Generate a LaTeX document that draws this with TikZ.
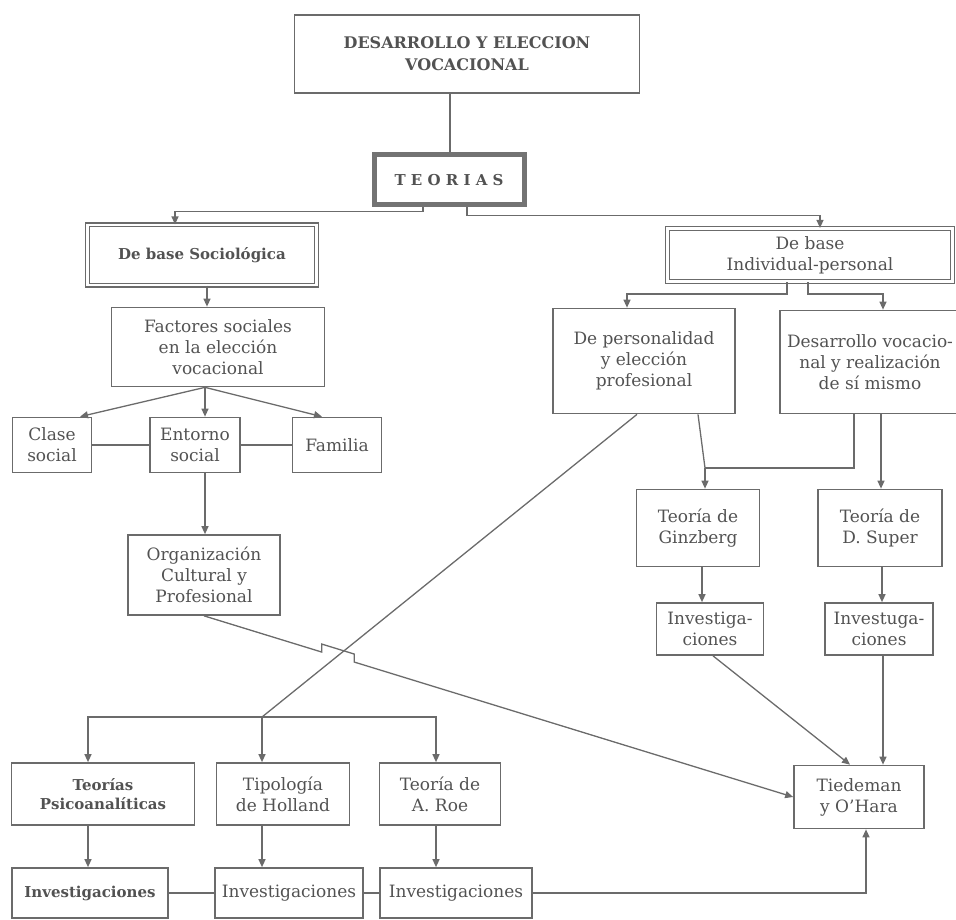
\documentclass[tikz,border=0pt]{standalone}
\usepackage{fontspec}
\setmainfont{DejaVu Serif}
\usepackage{tikz}
\usetikzlibrary{arrows.meta,calc}
\colorlet{gris}{black!58}
\colorlet{tinta}{black!68}

\begin{document}
\begin{tikzpicture}[x=1pt, y=-1pt,
    font=\fontsize{17}{21}\selectfont,
    caja/.style={draw=gris, line width=1.7pt, text=tinta, align=center, inner sep=0pt},
    doble/.style={caja, line width=1.2pt, double=white, double distance=2.6pt},
    linea/.style={draw=gris, line width=1.3pt},
    flecha/.style={linea, -{Triangle[length=8pt,width=7pt]}},
    negrita/.style={font=\fontsize{15}{19}\selectfont\bfseries}]
    \useasboundingbox (0,0) rectangle (956,920);

    % Titulo
    \node[caja, line width=1.5pt, minimum width=345pt, minimum height=78pt, font=\fontsize{16}{22}\selectfont\bfseries] (titulo) at (467,54) {DESARROLLO Y ELECCION\\VOCACIONAL};
    \node[caja, draw=black!55, line width=5pt, minimum width=150pt, minimum height=50pt, negrita] (teorias) at (449,180) {T E O R I A S};

    % Rama sociologica
    \node[doble, negrita, minimum width=229pt, minimum height=60pt] (socio) at (202,255) {De base Sociológica};
    \node[caja, minimum width=213pt, minimum height=79pt] (factores) at (218,347) {Factores sociales\\en la elección\\vocacional};
    \node[caja, minimum width=79pt, minimum height=55pt] (clase) at (52,445) {Clase\\social};
    \node[caja, minimum width=90pt, minimum height=55pt] (entorno) at (195,445) {Entorno\\social};
    \node[caja, minimum width=89pt, minimum height=55pt] (familia) at (337,445) {Familia};
    \node[caja, minimum width=152pt, minimum height=80pt] (org) at (204,575) {Organización\\Cultural y\\Profesional};

    % Rama individual
    \node[doble, minimum width=285pt, minimum height=53pt] (indiv) at (810,255) {De base\\Individual-personal};
    \node[caja, minimum width=182pt, minimum height=105pt] (person) at (644,361) {De personalidad\\y elección\\profesional};
    \node[caja, minimum width=180pt, minimum height=103pt] (desarr) at (870,362) {Desarrollo vocacio-\\nal y realización\\de sí mismo};
    \node[caja, minimum width=123pt, minimum height=77pt] (ginz) at (698,528) {Teoría de\\Ginzberg};
    \node[caja, minimum width=124pt, minimum height=77pt] (super) at (880,528) {Teoría de\\D. Super};
    \node[caja, minimum width=107pt, minimum height=52pt] (invG) at (710,629) {Investiga-\\ciones};
    \node[caja, minimum width=108pt, minimum height=52pt] (invS) at (879,629) {Investuga-\\ciones};
    \node[caja, minimum width=130pt, minimum height=63pt] (tied) at (859,797) {Tiedeman\\y O’Hara};

    % Teorias de personalidad
    \node[caja, negrita, minimum width=183pt, minimum height=62pt] (psico) at (103,794) {Teorías\\Psicoanalíticas};
    \node[caja, minimum width=133pt, minimum height=62pt] (holland) at (283,794) {Tipología\\de Holland};
    \node[caja, minimum width=121pt, minimum height=62pt] (roe) at (440,794) {Teoría de\\A. Roe};
    \node[caja, negrita, minimum width=156pt, minimum height=50pt] (inv1) at (90,893) {Investigaciones};
    \node[caja, minimum width=148pt, minimum height=50pt] (inv2) at (289,893) {Investigaciones};
    \node[caja, minimum width=152pt, minimum height=50pt] (inv3) at (456,893) {Investigaciones};

    % Conexiones superiores
    \draw[linea] ([xshift=1pt]teorias.north) -- ([xshift=1pt]teorias.north |- titulo.south);
    \draw[flecha] ([xshift=-26pt]teorias.south) -- ++(0,4) -| ([xshift=-27pt]socio.north);
    \draw[flecha] ([xshift=18pt]teorias.south) -- ++(0,8) -| ([xshift=10pt]indiv.north);

    % Conexiones sociologicas
    \draw[flecha] ([xshift=5pt]socio.south) -- ([xshift=5pt]socio.south |- factores.north);
    \draw[flecha] ([xshift=-13pt]factores.south) -- ([xshift=28pt]clase.north);
    \draw[flecha] ([xshift=-13pt]factores.south) -- ([xshift=10pt]entorno.north);
    \draw[flecha] ([xshift=-13pt]factores.south) -- ([xshift=-15pt]familia.north);
    \draw[linea] (clase) -- (entorno);
    \draw[linea] (entorno) -- (familia);
    \draw[flecha] ([xshift=10pt]entorno.south) -- ([xshift=10pt]entorno.south |- org.north);

    % Salto sobre la diagonal
    \coordinate (saltoA) at ($(org.south)!0.2!(tied.west)$);
    \coordinate (saltoB) at ($(org.south)!0.255!(tied.west)$);
    \draw[flecha] (org.south) -- (saltoA) -- ([yshift=8pt]saltoA) -- ([yshift=8pt]saltoB) -- (saltoB) -- (tied.west);

    % Conexiones individuales
    \draw[flecha] ([xshift=-23pt]indiv.south) -- ++(0,12) -| ([xshift=-17pt]person.north);
    \draw[flecha] ([xshift=-2pt]indiv.south) -- ++(0,12) -| ([xshift=13pt]desarr.north);
    \coordinate (union) at (705,468);
    \draw[linea] ([xshift=54pt]person.south) -- (union);
    \draw[linea] ([xshift=-16pt]desarr.south) |- (union);
    \draw[flecha] (union) -- (union |- ginz.north);
    \draw[flecha] ([xshift=11pt]desarr.south) -- ([xshift=11pt]desarr.south |- super.north);
    \draw[flecha] ([xshift=4pt]ginz.south) -- ([xshift=4pt]ginz.south |- invG.north);
    \draw[flecha] ([xshift=2pt]super.south) -- ([xshift=2pt]super.south |- invS.north);
    \draw[flecha] ([xshift=3pt]invG.south) -- ([xshift=-9pt]tied.north);
    \draw[flecha] ([xshift=4pt]invS.south) -- ([xshift=24pt]tied.north);

    % Diagonal hacia las teorias de personalidad
    \coordinate (ramal) at (262,717);
    \draw[linea] ([xshift=-7pt]person.south) -- (ramal);
    \draw[flecha] (ramal) -| ([xshift=-15pt]psico.north);
    \draw[flecha] (ramal) -- (ramal |- holland.north);
    \draw[flecha] (ramal) -| ([xshift=-4pt]roe.north);
    \draw[flecha] ([xshift=-15pt]psico.south) -- ([xshift=-15pt]psico.south |- inv1.north);
    \draw[flecha] (ramal |- holland.south) -- (ramal |- inv2.north);
    \draw[flecha] ([xshift=-4pt]roe.south) -- ([xshift=-4pt]roe.south |- inv3.north);

    % Investigaciones
    \draw[linea] (inv1) -- (inv2);
    \draw[linea] (inv2) -- (inv3);
    \draw[flecha] (inv3.east) -| ([xshift=7pt]tied.south);
\end{tikzpicture}
\end{document}
